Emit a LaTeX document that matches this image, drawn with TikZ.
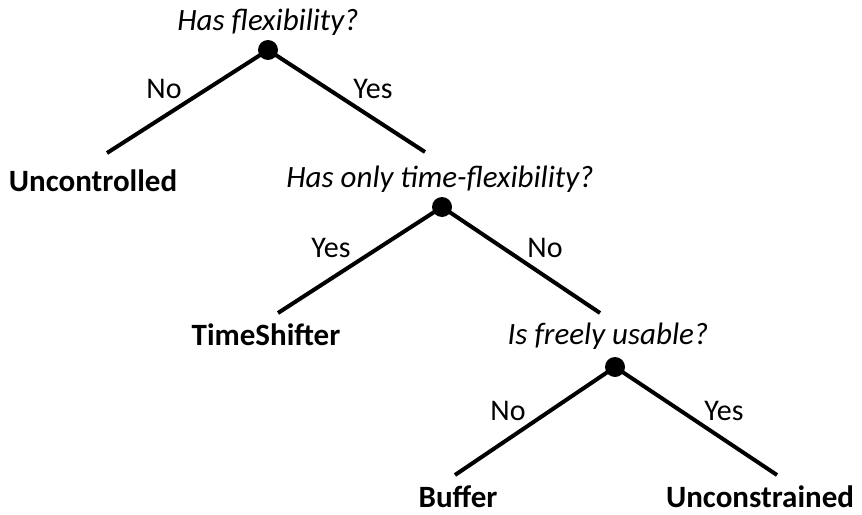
\documentclass[tikz,border=0pt]{standalone}
\usepackage{fontspec}
\setmainfont{Carlito}
\begin{document}
\begin{tikzpicture}[x=1pt,y=-1pt,
  dot/.style={circle,fill=black,inner sep=0pt,minimum size=20pt},
  branch/.style={line width=4pt},
  question/.style={anchor=base,inner sep=0pt,font=\fontsize{31}{37}\selectfont\itshape},
  leaf/.style={anchor=base,inner sep=0pt,font=\fontsize{31}{37}\selectfont\bfseries},
  answer/.style={anchor=base,inner sep=0pt,font=\fontsize{30}{36}\selectfont}]
\useasboundingbox (0,0) rectangle (862,514);
% questions
\node[question] (q1) at (268,30) {Has flexibility?};
\node[question] (q2) at (440,187) {Has only time-flexibility?};
\node[question] (q3) at (608,344) {Is freely usable?};
% dots
\node[dot] (d1) at (268,50) {};
\node[dot] (d2) at (442,207) {};
\node[dot] (d3) at (615,367) {};
% branch ends
\coordinate (e1l) at (107,153);
\coordinate (e1r) at (425,152);
\coordinate (e2l) at (278,313);
\coordinate (e2r) at (600,313);
\coordinate (e3l) at (455,475);
\coordinate (e3r) at (777,475);
\draw[branch] (d1.center) -- (e1l);
\draw[branch] (d1.center) -- (e1r);
\draw[branch] (d2.center) -- (e2l);
\draw[branch] (d2.center) -- (e2r);
\draw[branch] (d3.center) -- (e3l);
\draw[branch] (d3.center) -- (e3r);
% answers
\node[answer] (a1n) at (164,98) {No};
\node[answer] (a1y) at (373,98) {Yes};
\node[answer] (a2y) at (331,257) {Yes};
\node[answer] (a2n) at (545,257) {No};
\node[answer] (a3n) at (508,420) {No};
\node[answer] (a3y) at (724,420) {Yes};
% leaves
\node[leaf] (l1) at (93,191) {Uncontrolled};
\node[leaf] (l2) at (266,345) {TimeShifter};
\node[leaf] (l3) at (458,507) {Buffer};
\node[leaf] (l4) at (760,507) {Unconstrained};
\end{tikzpicture}
\end{document}
